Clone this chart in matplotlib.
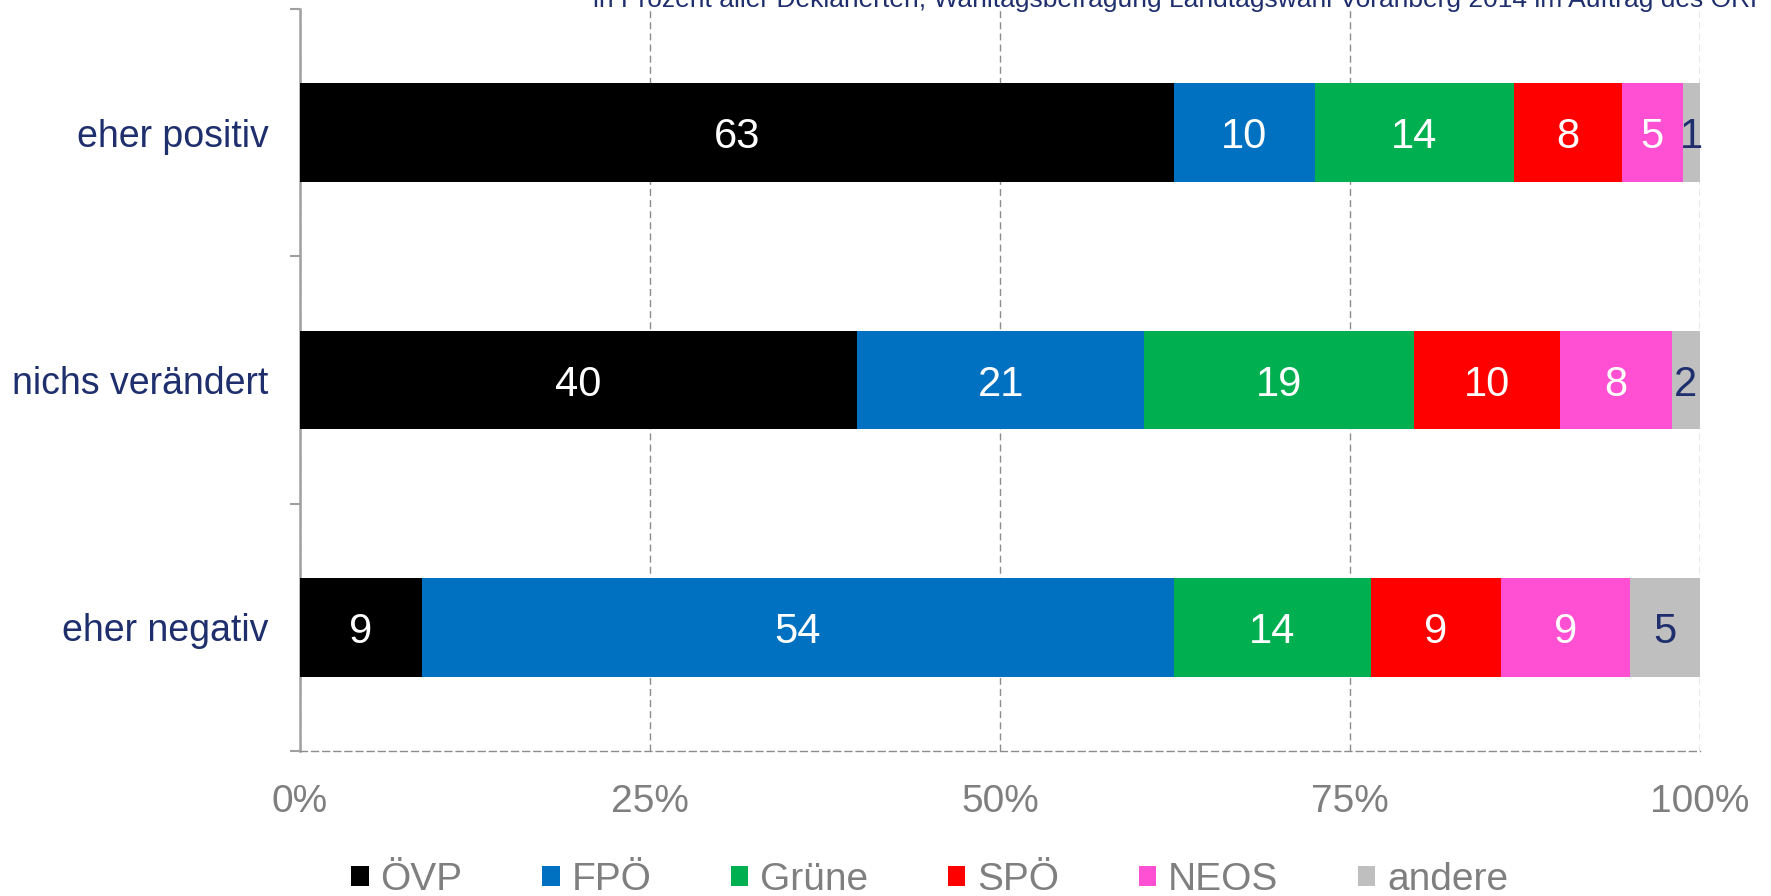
import matplotlib
matplotlib.use("Agg")
import matplotlib.pyplot as plt
import numpy as np

plt.rcParams['font.family'] = ['Liberation Sans', 'DejaVu Sans']

# Wahltagsbefragung Vorarlberg 2014
categories = ['eher positiv', 'nichs verändert', 'eher negativ']
parties = ['ÖVP', 'FPÖ', 'Grüne', 'SPÖ', 'NEOS', 'andere']
# printed labels (in %)
labels = {
    'ÖVP':    [63, 40, 9],
    'FPÖ':    [10, 21, 54],
    'Grüne':  [14, 19, 14],
    'SPÖ':    [8, 10, 9],
    'NEOS':   [5, 8, 9],
    'andere': [1, 2, 5],
}
# bar lengths (in %)
shares = {
    'ÖVP':    [62.4, 39.8, 8.7],
    'FPÖ':    [10.1, 20.5, 53.7],
    'Grüne':  [14.2, 19.3, 14.1],
    'SPÖ':    [7.7, 10.4, 9.3],
    'NEOS':   [4.4, 8.0, 9.2],
    'andere': [1.2, 2.0, 5.0],
}
colors = ['#000000', '#0070C0', '#00B050', '#FF0000', '#FF4FD2', '#BFBFBF']
label_colors = ['white', 'white', 'white', 'white', 'white', '#1F2F6E']
xticks = [0, 25, 50, 75, 100]

navy = '#1F2F6E'
grey = '#7F7F7F'

fig = plt.figure(figsize=(17.71, 8.96), dpi=100)
ax = fig.add_axes([300/1771, 1 - 751/896, 1400/1771, 742/896])

y = np.arange(len(categories))
left = np.zeros(len(categories))
for i, p in enumerate(parties):
    w = np.array(shares[p])
    ax.barh(y, w, left=left, height=0.4, color=colors[i], label=p, zorder=3)
    for j in range(len(categories)):
        ax.text(left[j] + w[j] / 2, y[j], str(labels[p][j]),
                ha='center', va='center_baseline', fontsize=30,
                color=label_colors[i], zorder=4)
    left += w

ax.set_xlim(0, 100)
ax.set_ylim(2.5, -0.5)
ax.set_xticks(xticks)
ax.set_xticklabels([f'{t}%' for t in xticks], fontsize=28, color=grey)
ax.tick_params(axis='x', length=0, pad=24)
ax.set_yticks(y)
ax.set_yticklabels(categories, fontsize=27, color=navy)
ax.tick_params(axis='y', which='major', length=0, pad=22.5)
ax.set_yticks([-0.5, 0.5, 1.5, 2.5], minor=True)
ax.tick_params(axis='y', which='minor', length=7, width=1.5, color='#A0A0A0')

ax.grid(axis='x', linestyle=(0, (5, 3)), color='#8C8C8C', linewidth=1, zorder=0)
for s in ['top', 'right']:
    ax.spines[s].set_visible(False)
ax.spines['left'].set_color('#A0A0A0')
ax.spines['left'].set_linewidth(1.8)
ax.spines['bottom'].set_color('#8C8C8C')
ax.spines['bottom'].set_linestyle((0, (5, 3)))
ax.spines['bottom'].set_linewidth(1)

fig.text(593/1771, 1 - 7/896,
         'in Prozent aller Deklarierten, Wahltagsbefragung Landtagswahl '
         'Vorarlberg 2014 im Auftrag des ORF',
         fontsize=19, color=navy, va='baseline', ha='left')

leg = fig.legend(loc='center', bbox_to_anchor=(0.525, 0.018), ncol=6,
                 frameon=False, fontsize=28, handlelength=0.45,
                 handleheight=0.45, handletextpad=0.3, columnspacing=2.05,
                 borderpad=0.2)
for t in leg.get_texts():
    t.set_color(grey)

fig.savefig('out.png', dpi=100)
